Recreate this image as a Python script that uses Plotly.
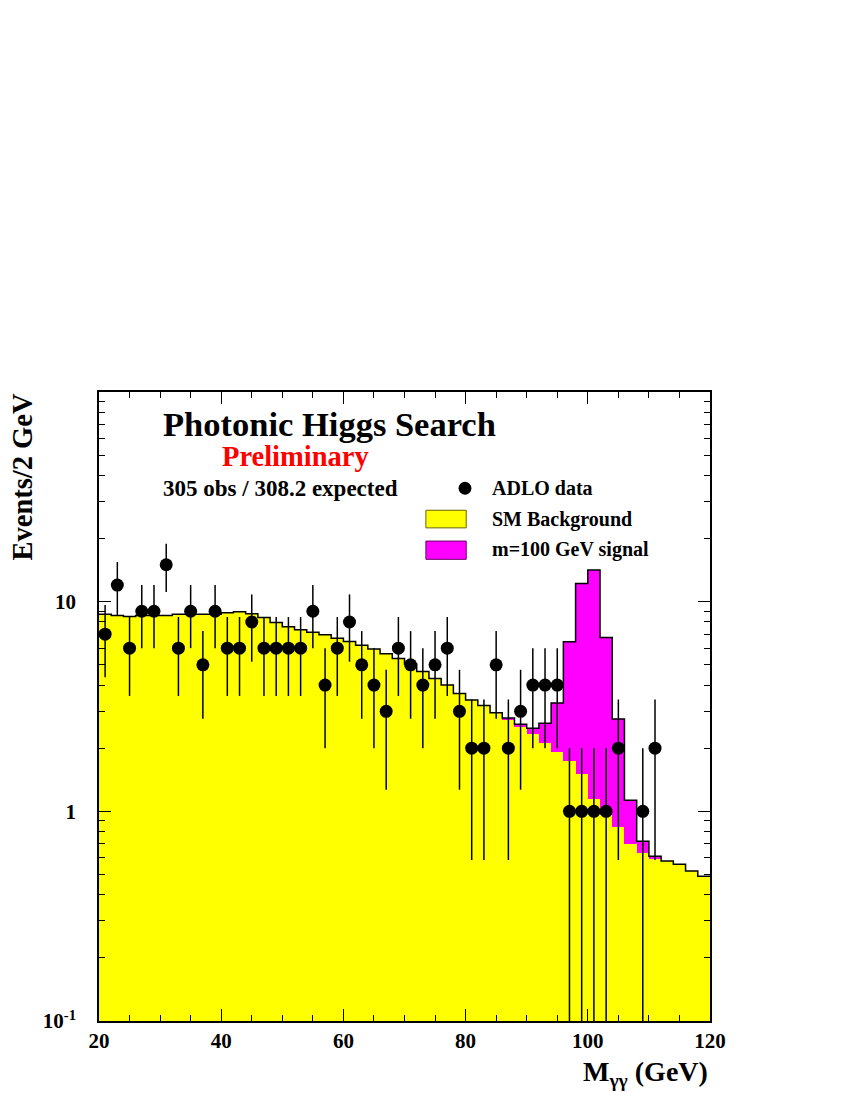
import plotly.graph_objects as go
import math

# ---- data ----
bin_centers = [21, 23, 25, 27, 29, 31, 33, 35, 37, 39,
               41, 43, 45, 47, 49, 51, 53, 55, 57, 59,
               61, 63, 65, 67, 69, 71, 73, 75, 77, 79,
               81, 83, 85, 87, 89, 91, 93, 95, 97, 99,
               101, 103, 105, 107, 109, 111, 113, 115, 117, 119]
bin_edges = [20, 22, 24, 26, 28, 30, 32, 34, 36, 38,
             40, 42, 44, 46, 48, 50, 52, 54, 56, 58,
             60, 62, 64, 66, 68, 70, 72, 74, 76, 78,
             80, 82, 84, 86, 88, 90, 92, 94, 96, 98,
             100, 102, 104, 106, 108, 110, 112, 114, 116, 118, 120]
data_counts = [7, 12, 6, 9, 9, 15, 6, 9, 5, 9,
               6, 6, 8, 6, 6, 6, 6, 9, 4, 6,
               8, 5, 4, 3, 6, 5, 4, 5, 6, 3,
               2, 2, 5, 2, 3, 4, 4, 4, 1, 1,
               1, 1, 2, 0, 1, 2, 0, 0, 0, 0]
sm_background = [8.7, 8.6, 8.5, 8.6, 8.6, 8.6, 8.7, 8.7, 8.7, 8.7,
                 8.85, 8.95, 8.75, 8.4, 7.95, 7.6, 7.35, 7.15, 6.95, 6.7,
                 6.45, 6.2, 5.95, 5.65, 5.35, 5.05, 4.65, 4.3, 4.0, 3.65,
                 3.4, 3.2, 2.95, 2.74, 2.52, 2.33, 2.12, 1.91, 1.74, 1.51,
                 1.15, 0.96, 0.84, 0.70, 0.63, 0.59, 0.58, 0.56, 0.52, 0.49]
signal_100 = [0, 0, 0, 0, 0, 0, 0, 0, 0, 0,
              0, 0, 0, 0, 0, 0, 0, 0, 0, 0,
              0, 0, 0, 0, 0, 0, 0, 0, 0, 0,
              0, 0, 0, 0.05, 0.08, 0.16, 0.51, 1.38, 4.70, 10.7,
              13.0, 5.78, 1.92, 0.43, 0.09, 0.02, 0, 0, 0, 0]

y_tickvals = [0.1, 1, 10]
y_ticktext = ["10<sup>-1</sup>", "1", "10"]
x_tickvals = [20, 40, 60, 80, 100, 120]

FONT = "Liberation Serif"

total = [b + s for b, s in zip(sm_background, signal_100)]
pts_x = [x for x, n in zip(bin_centers, data_counts) if n > 0]
pts_y = [n for n in data_counts if n > 0]
pts_err = [math.sqrt(n) for n in pts_y]

fig = go.Figure()
fig.add_trace(go.Bar(x=bin_centers, y=sm_background, width=2,
                     marker=dict(color="#FFFF00", line=dict(width=0)),
                     name="SM Background", showlegend=False))
fig.add_trace(go.Bar(x=bin_centers, y=signal_100, width=2,
                     marker=dict(color="#FF00FF", line=dict(width=0)),
                     name="m=100 GeV signal", showlegend=False))
fig.add_trace(go.Scatter(x=bin_edges, y=total + [total[-1]], mode="lines",
                         line=dict(shape="hv", color="black", width=1.5),
                         showlegend=False, hoverinfo="skip"))
fig.add_trace(go.Scatter(x=pts_x, y=pts_y, mode="markers",
                         marker=dict(color="black", size=13, symbol="circle"),
                         error_y=dict(type="data", array=pts_err, color="black",
                                      thickness=1.5, width=0),
                         showlegend=False, name="ADLO data"))

minor_y = [m * 10 ** e for e in (-1, 0, 1) for m in range(2, 10)]

fig.update_layout(
    width=850, height=1100,
    paper_bgcolor="white", plot_bgcolor="white",
    barmode="stack", bargap=0,
    margin=dict(l=91, r=148, t=384, b=87),
    font=dict(family=FONT, color="black"),
    showlegend=False,
)
fig.update_xaxes(range=[20, 120], showgrid=False, zeroline=False,
                 showline=True, linecolor="black", linewidth=1.5, mirror="ticks",
                 ticks="inside", ticklen=12, tickwidth=1.2, tickcolor="black",
                 tickvals=x_tickvals, ticktext=[f"<b>{v}</b>" for v in x_tickvals],
                 tickfont=dict(family=FONT, size=21, color="black"),
                 minor=dict(ticks="inside", ticklen=6, tickwidth=1.2, tickcolor="black",
                            dtick=5, tick0=20, showgrid=False))
fig.update_yaxes(type="log", range=[-1, 2], showgrid=False, zeroline=False,
                 showline=True, linecolor="black", linewidth=1.5, mirror="ticks",
                 ticks="inside", ticklen=12, tickwidth=1.2, tickcolor="black",
                 tickvals=y_tickvals, ticktext=[f"<b>{t}</b>" for t in y_ticktext],
                 tickfont=dict(family=FONT, size=21, color="black"),
                 ticklabelstandoff=17,
                 minor=dict(ticks="inside", ticklen=6, tickwidth=1.2, tickcolor="black",
                            tickvals=minor_y, showgrid=False))

anns = [
    dict(text="<b>Photonic Higgs Search</b>", x=0.101, y=0.949, xanchor="left",
         font=dict(size=34.5)),
    dict(text="<b>Preliminary</b>", x=0.322, y=0.898, xanchor="center",
         font=dict(size=28.5, color="#FF0000")),
    dict(text="<b>305 obs / 308.2 expected</b>", x=0.101, y=0.847, xanchor="left",
         font=dict(size=23)),
    dict(text="<b>ADLO data</b>", x=0.640, y=0.847, xanchor="left", font=dict(size=20)),
    dict(text="<b>SM Background</b>", x=0.640, y=0.798, xanchor="left", font=dict(size=20)),
    dict(text="<b>m=100 GeV signal</b>", x=0.640, y=0.749, xanchor="left", font=dict(size=20)),
    dict(text="<b>Events/2 GeV</b>", x=-0.126, y=1.0, xanchor="center", yanchor="top",
         textangle=-90, font=dict(size=28.5)),
    dict(text="<b>M<sub>γγ</sub> (GeV)</b>", x=1.0, y=-0.084, xanchor="right",
         font=dict(size=28)),
]
for a in anns:
    a.setdefault("yanchor", "middle")
    a.update(xref="paper", yref="paper", showarrow=False)
    a["font"].setdefault("family", FONT)
    a["font"].setdefault("color", "black")
    fig.add_annotation(**a)

# legend symbols
fig.add_shape(type="circle", xref="paper", yref="paper",
              x0=0.5885, x1=0.6095, y0=0.8368, y1=0.8572,
              fillcolor="black", line=dict(color="black", width=0))
fig.add_shape(type="rect", xref="paper", yref="paper",
              x0=0.535, x1=0.601, y0=0.784, y1=0.812,
              fillcolor="#FFFF00", line=dict(color="#666600", width=1))
fig.add_shape(type="rect", xref="paper", yref="paper",
              x0=0.535, x1=0.601, y0=0.734, y1=0.763,
              fillcolor="#FF00FF", line=dict(color="#660066", width=1))

fig.write_html("out.html")
